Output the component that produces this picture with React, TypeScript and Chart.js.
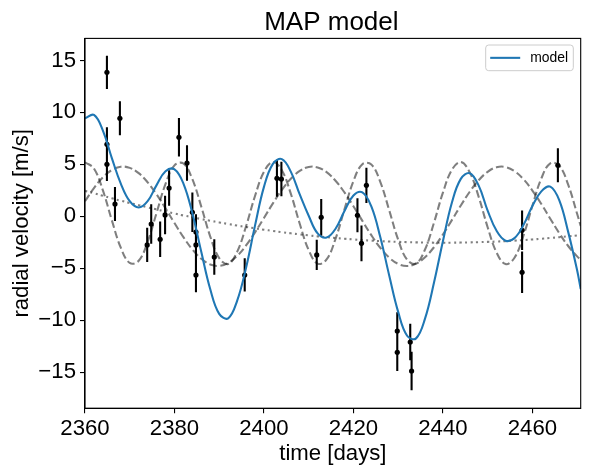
import { useEffect, useRef } from 'react';
import { Chart, registerables } from 'chart.js';

Chart.register(...registerables);

// prediction grid (days) and curves
const gridT = [
  2360, 2362, 2364, 2366, 2368, 2370, 2372, 2374, 2376, 2378,
  2380, 2382, 2384, 2386, 2388, 2390, 2392, 2394, 2396, 2398,
  2400, 2402, 2404, 2406, 2408, 2410, 2412, 2414, 2416, 2418,
  2420, 2422, 2424, 2426, 2428, 2430, 2432, 2434, 2436, 2438,
  2440, 2442, 2444, 2446, 2448, 2450, 2452, 2454, 2456, 2458,
  2460, 2462, 2464, 2466, 2468, 2470, 2470.8,
];
const modelRV = [
  9.43, 9.75, 8.25, 5.6, 3.15, 1.45, 0.85, 1.45, 3.0, 4.33,
  4.52, 3.15, 0.29, -3.44, -7.02, -9.39, -9.82, -8.14, -4.95, -0.9,
  2.83, 5.05, 5.5, 4.3, 2.1, 0.05, -1.65, -2.05, -1.2, 0.5,
  2.0, 2.3, 0.95, -2.0, -5.7, -9.2, -11.5, -11.75, -9.85, -6.4,
  -2.4, 1.3, 3.6, 4.15, 2.95, 0.55, -1.4, -2.35, -2.1, -0.85,
  1.0, 2.4, 2.85, 1.55, -1.5, -5.2, -7.0,
];
const planetB = [
  5.2, 4.6, 2.49, -0.38, -3.02, -4.49, -4.28, -2.46, 0.33, 3.11,
  4.9, 5.08, 3.57, 0.92, -1.95, -4.03, -4.59, -3.43, -0.96, 1.95,
  4.28, 5.22, 4.43, 2.18, -0.72, -3.26, -4.56, -4.15, -2.17, 0.67,
  3.38, 5.01, 4.99, 3.31, 0.58, -2.25, -4.18, -4.54, -3.2, -0.63,
  2.27, 4.47, 5.22, 4.23, 1.87, -1.05, -3.49, -4.6, -3.99, -1.87,
  1.01, 3.64, 5.1, 4.87, 3.04, 0.24, -0.93,
];
const planetC = [
  1.45, 2.72, 3.75, 4.45, 4.77, 4.66, 4.15, 3.27, 2.11, 0.76,
  -0.65, -2.01, -3.19, -4.09, -4.64, -4.77, -4.49, -3.82, -2.81, -1.55,
  -0.16, 1.24, 2.54, 3.61, 4.37, 4.75, 4.7, 4.25, 3.42, 2.3,
  0.97, -0.44, -1.82, -3.03, -3.98, -4.58, -4.78, -4.56, -3.94, -2.98,
  -1.75, -0.37, 1.04, 2.36, 3.47, 4.28, 4.72, 4.74, 4.34, 3.57,
  2.48, 1.18, -0.23, -1.62, -2.86, -3.86, -4.16,
];
const trendRV = [
  2.45, 2.21, 1.97, 1.73, 1.5, 1.28, 1.07, 0.86, 0.66, 0.46,
  0.27, 0.08, -0.09, -0.27, -0.43, -0.59, -0.74, -0.89, -1.03, -1.16,
  -1.29, -1.41, -1.53, -1.64, -1.74, -1.84, -1.93, -2.01, -2.09, -2.16,
  -2.23, -2.29, -2.34, -2.39, -2.43, -2.46, -2.49, -2.51, -2.53, -2.54,
  -2.54, -2.54, -2.53, -2.51, -2.49, -2.46, -2.43, -2.39, -2.34, -2.29,
  -2.23, -2.16, -2.09, -2.01, -1.93, -1.84, -1.8,
];

// observations
const obsT = [
  2364.9, 2364.9, 2364.9, 2366.7, 2367.8, 2373.9, 2374.8, 2376.8, 2377.9, 2378.8,
  2381.0, 2382.8, 2384.0, 2384.8, 2384.8, 2384.8, 2388.9, 2395.7, 2402.9, 2403.9,
  2411.8, 2412.8, 2420.9, 2421.8, 2422.9, 2429.8, 2429.8, 2432.7, 2433.0, 2457.7,
  2457.7, 2465.7,
];
const obsRV = [
  13.86, 6.93, 5.0, 1.18, 9.43, -2.76, -0.74, -2.21, 0.13, 2.72,
  7.6, 5.13, 0.38, -1.51, -2.76, -5.65, -3.92, -5.65, 3.66, 3.59,
  -3.72, -0.1, 0.1, -2.6, 2.98, -11.04, -13.09, -12.1, -14.89, -1.35,
  -5.39, 4.91,
];
const obsErr = [
  1.6, 1.65, 1.6, 1.64, 1.64, 1.65, 1.9, 1.72, 1.85, 1.7,
  1.85, 1.7, 1.9, 1.7, 1.7, 1.65, 1.7, 1.6, 1.77, 1.65,
  1.45, 1.77, 1.64, 1.72, 1.7, 1.8, 1.8, 1.75, 1.85, 1.9,
  2.0, 1.64,
];

const xTicks = [2360, 2380, 2400, 2420, 2440, 2460];
const yTicks = [-15, -10, -5, 0, 5, 10, 15];

const FONT = "'Liberation Sans', Arial, sans-serif";
const GRAY = 'rgba(0,0,0,0.5)';
const BLUE = '#1f77b4';

const pts = (ys: number[]) => ys.map((y, i) => ({ x: gridT[i], y }));

const errorBars = {
  id: 'errorBars',
  beforeDatasetsDraw(chart: Chart) {
    const { ctx, scales } = chart;
    const xs = scales.x;
    const ys = scales.y;
    ctx.save();
    ctx.strokeStyle = '#000';
    ctx.lineWidth = 2.08;
    ctx.beginPath();
    obsT.forEach((t, i) => {
      const x = xs.getPixelForValue(t);
      ctx.moveTo(x, ys.getPixelForValue(obsRV[i] + obsErr[i]));
      ctx.lineTo(x, ys.getPixelForValue(obsRV[i] - obsErr[i]));
    });
    ctx.stroke();
    ctx.restore();
  },
};

const frame = {
  id: 'frame',
  afterDraw(chart: Chart) {
    const { ctx, chartArea: a } = chart;
    ctx.save();
    // full box, like matplotlib spines
    ctx.strokeStyle = '#000';
    ctx.lineWidth = 1.1;
    ctx.strokeRect(a.left, a.top, a.right - a.left, a.bottom - a.top);

    // title
    ctx.fillStyle = '#000';
    ctx.font = `26px ${FONT}`;
    ctx.textAlign = 'center';
    ctx.textBaseline = 'alphabetic';
    ctx.fillText('MAP model', (a.left + a.right) / 2 - 1.5, a.top - 8);

    // legend
    const lx = 485.7, ly = 45, lw = 87.6, lh = 25.7;
    ctx.beginPath();
    if ((ctx as any).roundRect) (ctx as any).roundRect(lx, ly, lw, lh, 3);
    else ctx.rect(lx, ly, lw, lh);
    ctx.fillStyle = 'rgba(255,255,255,0.8)';
    ctx.fill();
    ctx.strokeStyle = '#cccccc';
    ctx.lineWidth = 1;
    ctx.stroke();
    ctx.beginPath();
    ctx.moveTo(lx + 4.5, ly + lh / 2);
    ctx.lineTo(lx + 34.5, ly + lh / 2);
    ctx.strokeStyle = BLUE;
    ctx.lineWidth = 2.08;
    ctx.stroke();
    ctx.fillStyle = '#000';
    ctx.font = `13.9px ${FONT}`;
    ctx.textAlign = 'left';
    ctx.textBaseline = 'middle';
    ctx.fillText('model', lx + 44.5, ly + lh / 2 + 0.5);
    ctx.restore();
  },
};

const minus = (v: number | string) => String(v).replace('-', '\u2212');

export default function App() {
  const canvasRef = useRef<HTMLCanvasElement>(null);

  useEffect(() => {
    document.body.style.margin = '0';
    if (!canvasRef.current) return;
    const lineBase = { pointRadius: 0, tension: 0.4, borderWidth: 2.08, fill: false };
    const chart = new Chart(canvasRef.current, {
      type: 'line',
      data: {
        datasets: [
          { ...lineBase, label: 'model', data: pts(modelRV), borderColor: BLUE },
          { ...lineBase, label: 'trend', data: pts(trendRV), borderColor: GRAY, borderDash: [2.1, 3.4] },
          { ...lineBase, label: 'planet b', data: pts(planetB), borderColor: GRAY, borderDash: [7.7, 3.3] },
          { ...lineBase, label: 'planet c', data: pts(planetC), borderColor: GRAY, borderDash: [7.7, 3.3] },
          {
            type: 'scatter',
            label: 'data',
            data: obsT.map((t, i) => ({ x: t, y: obsRV[i] })),
            pointRadius: 2.6,
            pointBackgroundColor: '#000',
            pointBorderWidth: 0,
            showLine: false,
          } as any,
        ],
      },
      options: {
        animation: false,
        responsive: false,
        layout: { padding: { top: 38.4, right: 9.3, left: 0, bottom: 0 } },
        plugins: { legend: { display: false }, tooltip: { enabled: false } },
        scales: {
          x: {
            type: 'linear',
            min: 2360,
            max: 2470.8,
            afterBuildTicks: (s: any) => { s.ticks = xTicks.map((v) => ({ value: v })); },
            afterFit: (s: any) => { s.height = 66.8; },
            grid: { drawOnChartArea: false, drawTicks: true, tickLength: 5, color: '#000', lineWidth: 1.1 },
            border: { display: true, color: '#000', width: 1.1 },
            ticks: { color: '#000', padding: 2, maxRotation: 0, font: { family: FONT, size: 22.2 }, callback: (v: any) => minus(v) },
            title: { display: true, text: 'time [days]', color: '#000', font: { family: FONT, size: 22.2 }, padding: { top: 0, bottom: 7.7 } },
          },
          y: {
            type: 'linear',
            min: -18.47,
            max: 17.12,
            afterBuildTicks: (s: any) => { s.ticks = yTicks.map((v) => ({ value: v })); },
            afterFit: (s: any) => { s.width = 85; },
            grid: { drawOnChartArea: false, drawTicks: true, tickLength: 5, color: '#000', lineWidth: 1.1 },
            border: { display: true, color: '#000', width: 1.1 },
            ticks: { color: '#000', padding: 4, font: { family: FONT, size: 22.2 }, callback: (v: any) => minus(v) },
            title: { display: true, text: 'radial velocity [m/s]', color: '#000', font: { family: FONT, size: 22.2 }, padding: { top: 8.4, bottom: 0 } },
          },
        },
      },
      plugins: [errorBars, frame],
    });
    return () => { chart.destroy(); };
  }, []);

  return (
    <div style={{ width: 590, height: 475, background: '#fff' }}>
      <canvas ref={canvasRef} width={590} height={475} />
    </div>
  );
}
